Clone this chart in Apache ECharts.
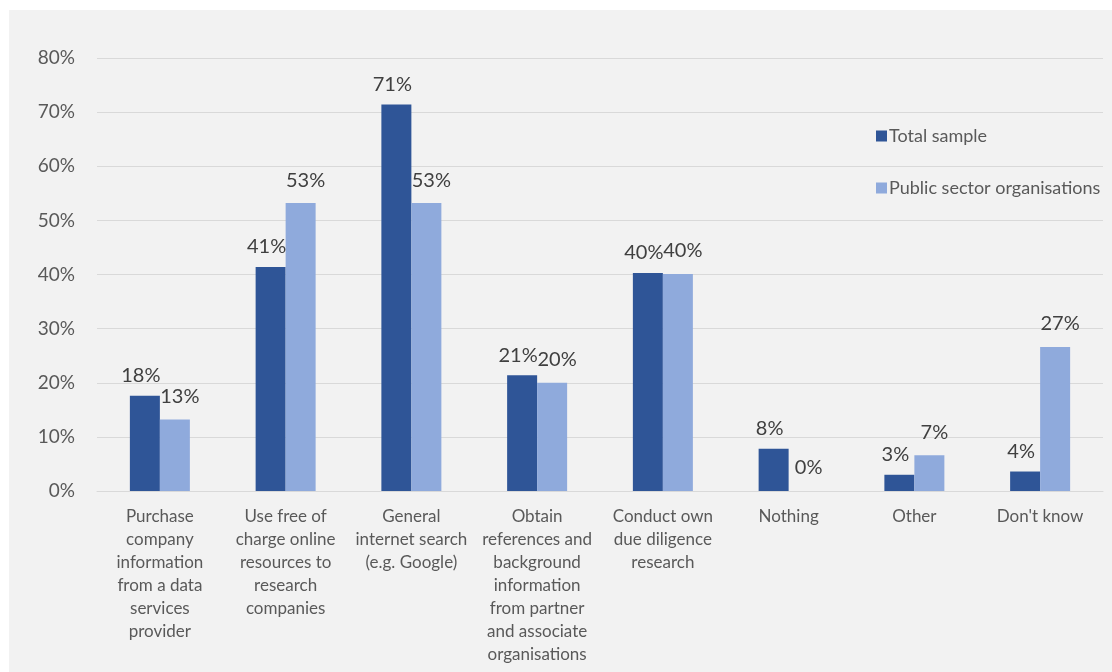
<!DOCTYPE html>
<html>
<head>
<meta charset="utf-8">
<script src="https://cdn.jsdelivr.net/npm/echarts@6/dist/echarts.min.js"></script>
<style>
  html, body { margin: 0; padding: 0; background: #ffffff; }
  #wrap { position: absolute; left: 0; top: 0; width: 1112px; height: 672px; background: #ffffff; }
  #panel { position: absolute; left: 9px; top: 10px; width: 1103px; height: 662px; background: #f2f2f2; }
  #chart { position: absolute; left: 0; top: 0; width: 1112px; height: 672px; }
</style>
</head>
<body>
<div id="wrap">
  <div id="panel"></div>
  <div id="chart"></div>
</div>
<script>
const categories = [
  "Purchase\ncompany\ninformation\nfrom a data\nservices\nprovider",
  "Use free of\ncharge online\nresources to\nresearch\ncompanies",
  "General\ninternet search\n(e.g. Google)",
  "Obtain\nreferences and\nbackground\ninformation\nfrom partner\nand associate\norganisations",
  "Conduct own\ndue diligence\nresearch",
  "Nothing",
  "Other",
  "Don't know"
];
const seriesNames = ["Total sample", "Public sector organisations"];
const totalSample = [17.6, 41.4, 71.4, 21.4, 40.3, 7.8, 3.0, 3.6];
const publicSector = [13.2, 53.2, 53.2, 20.0, 40.1, 0, 6.6, 26.6];
const yTicks = [0, 10, 20, 30, 40, 50, 60, 70, 80];

const FONT = "Lato, 'Open Sans', sans-serif";
const chart = echarts.init(document.getElementById('chart'), null, { renderer: 'canvas' });

function labelCfg(dist, dx) {
  return {
    show: true,
    position: 'top',
    distance: dist,
    offset: [dx, 0],
    color: '#404040',
    fontSize: 20,
    fontFamily: FONT,
    formatter: p => Math.round(p.value) + '%'
  };
}

chart.setOption({
  backgroundColor: 'transparent',
  animation: false,
  grid: { left: 97, right: 9, top: 58, bottom: 181, containLabel: false },
  legend: {
    orient: 'vertical',
    left: 871,
    top: 122,
    itemWidth: 11,
    itemHeight: 11,
    itemGap: 34,
    icon: 'rect',
    textStyle: { color: '#595959', fontSize: 18, fontFamily: FONT, padding: [0, 0, 0, -3] },
    data: seriesNames
  },
  xAxis: {
    type: 'category',
    data: categories,
    axisLine: { show: true, lineStyle: { color: '#d9d9d9', width: 1 } },
    axisTick: { show: false },
    axisLabel: {
      interval: 0,
      color: '#595959',
      fontSize: 17,
      fontFamily: FONT,
      lineHeight: 23,
      margin: 14,
      align: 'center',
      verticalAlign: 'top'
    }
  },
  yAxis: {
    type: 'value',
    min: yTicks[0],
    max: yTicks[yTicks.length - 1],
    interval: 10,
    axisLine: { show: false },
    axisTick: { show: false },
    splitLine: { lineStyle: { color: '#d9d9d9', width: 1 } },
    axisLabel: {
      color: '#595959',
      fontSize: 19,
      fontFamily: FONT,
      margin: 22,
      formatter: '{value}%'
    }
  },
  series: [
    {
      name: seriesNames[0],
      type: 'bar',
      data: totalSample,
      barWidth: 30,
      barGap: '0%',
      itemStyle: { color: '#2f5597' },
      label: labelCfg(10, -4)
    },
    {
      name: seriesNames[1],
      type: 'bar',
      data: publicSector,
      barWidth: 30,
      barGap: '0%',
      itemStyle: { color: '#8faadc' },
      label: labelCfg(13, 5)
    }
  ]
});
</script>
</body>
</html>
